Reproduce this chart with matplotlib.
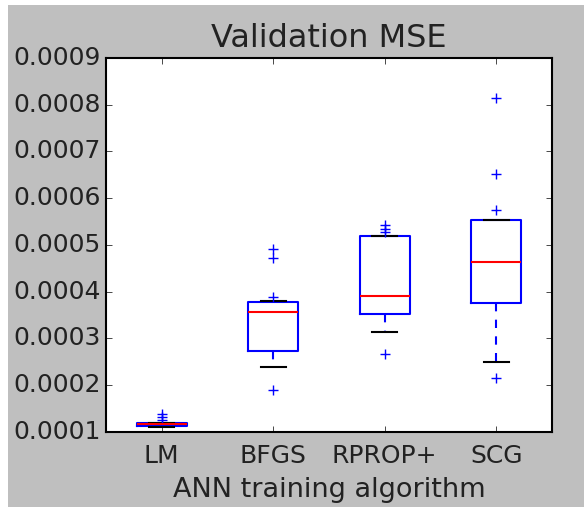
import matplotlib
matplotlib.use("Agg")
import matplotlib.pyplot as plt
from matplotlib.patches import Rectangle

plt.style.use("classic")

# box statistics (validation MSE)
algos = ["LM", "BFGS", "RPROP+", "SCG"]
q1 = [0.000112, 0.000273, 0.000353, 0.000376]
med = [0.000117, 0.000357, 0.000390, 0.000464]
q3 = [0.000118, 0.000378, 0.000519, 0.000553]
whislo = [0.000111, 0.000238, 0.000313, 0.000250]
whishi = [0.000119, 0.000379, 0.000520, 0.000554]
fliers = [
    [0.000125, 0.000131, 0.000138],
    [0.000189, 0.000389, 0.000471, 0.000492],
    [0.000266, 0.000527, 0.000535, 0.000542],
    [0.000216, 0.000574, 0.000651, 0.000815],
]

stats = []
for i in range(len(algos)):
    stats.append({"label": algos[i], "q1": q1[i], "med": med[i], "q3": q3[i],
                  "whislo": whislo[i], "whishi": whishi[i], "fliers": fliers[i]})

fig = plt.figure(figsize=(5.84, 5.07), dpi=100)
fig.patch.set_facecolor("#bfbfbf")
# thin white margin of the screenshot
fig.patches.append(Rectangle((0, 0.99), 1, 0.01, transform=fig.transFigure,
                             facecolor="white", edgecolor="none", zorder=-1))
fig.patches.append(Rectangle((0, 0), 0.0137, 1, transform=fig.transFigure,
                             facecolor="white", edgecolor="none", zorder=-1))

txt = "#222222"
ax = fig.add_axes([0.1815, 0.1485, 0.945 - 0.1815, 0.8856 - 0.1485])
ax.bxp(stats, widths=0.45, manage_ticks=True,
       boxprops=dict(color="b", linewidth=1.5),
       whiskerprops=dict(color="b", linestyle="--", linewidth=1.5),
       capprops=dict(color="k", linewidth=1.5),
       medianprops=dict(color="r", linewidth=1.5),
       flierprops=dict(marker="+", markeredgecolor="b", markersize=7, linestyle="none"))

ax.set_ylim(0.0001, 0.0009)
ax.set_xlim(0.5, 4.5)
ax.set_yticks([0.0001 * k for k in range(1, 10)])
ax.set_yticklabels(["%.4f" % (0.0001 * k) for k in range(1, 10)])
ax.tick_params(labelsize=18, labelcolor=txt)
ax.tick_params(axis="x", pad=9)
ax.set_xlabel("ANN training algorithm", fontsize=19.5, color=txt, labelpad=6)
ax.set_title("Validation MSE", fontsize=23, color=txt, pad=8)
for s in ax.spines.values():
    s.set_linewidth(1.5)

fig.savefig("out.png", dpi=100, facecolor=fig.get_facecolor())
